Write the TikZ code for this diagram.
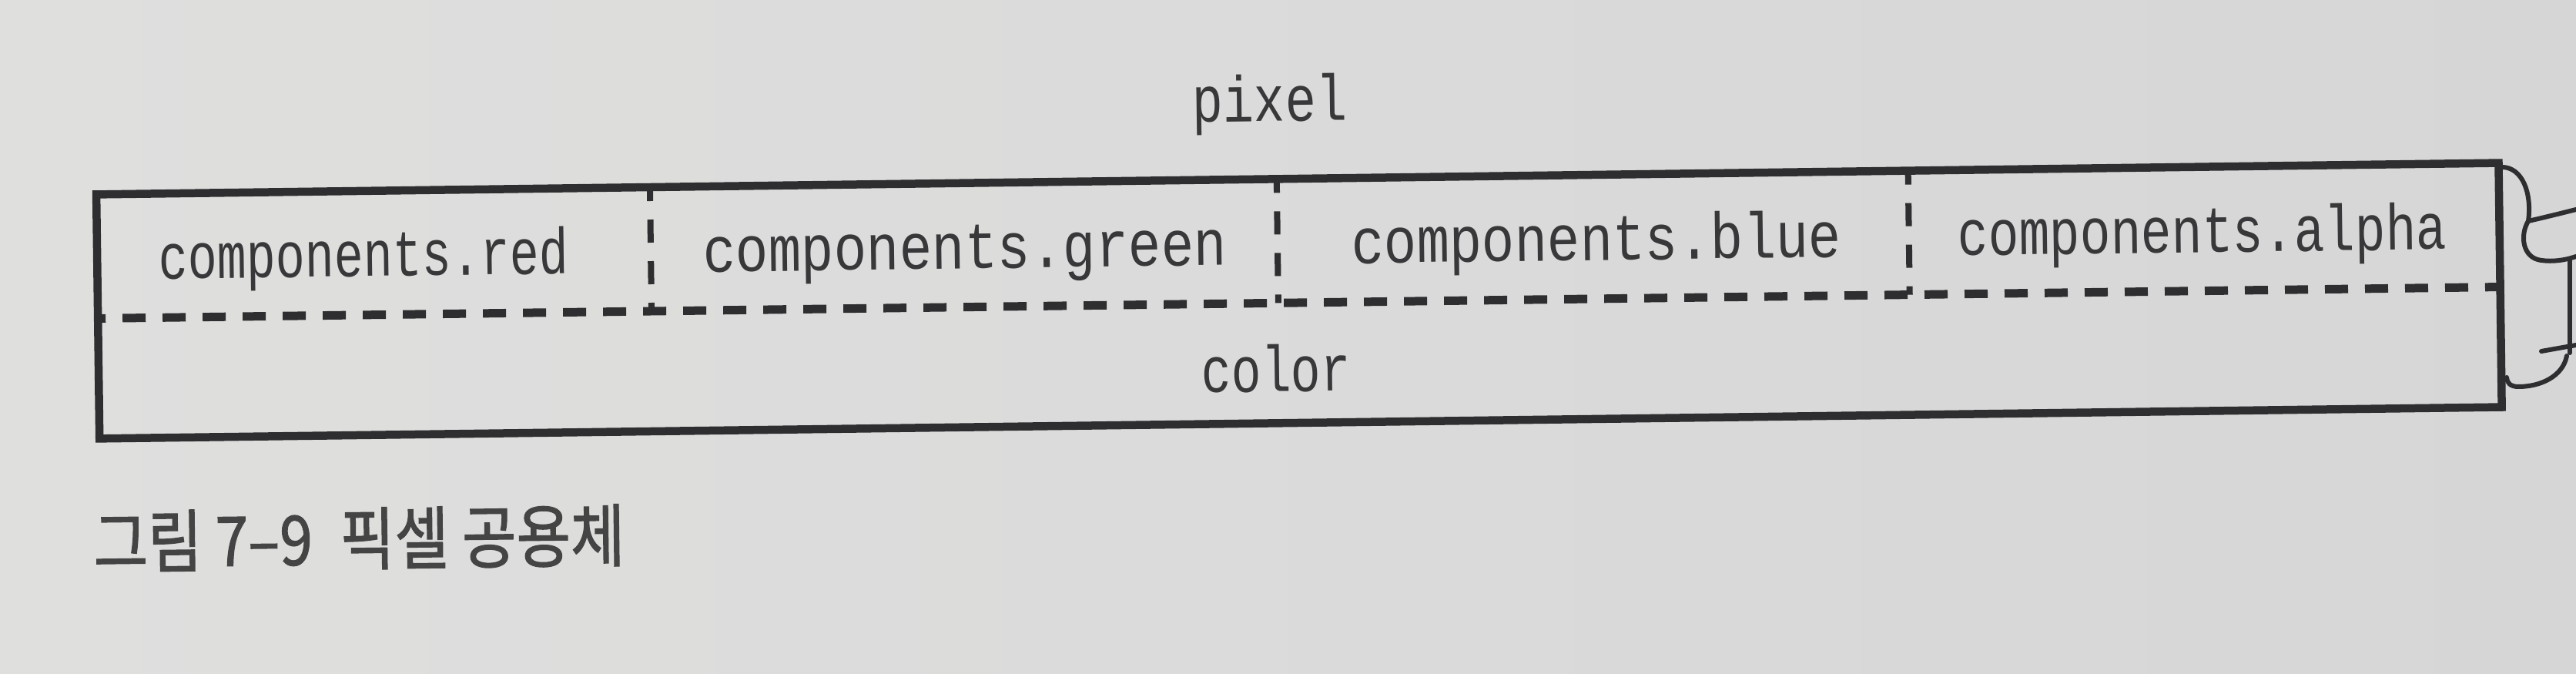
\documentclass[tikz,border=0pt]{standalone}
\usepackage{fontspec}
\usepackage{graphicx}
\newfontfamily\codefont{Liberation Mono}
\newfontfamily\capfont{Noto Sans CJK KR}[FakeBold=1.5]
\newcommand{\fitw}[2]{\resizebox{#1}{\height}{#2}}
\definecolor{bgl}{RGB}{223,223,222}
\definecolor{bgr}{RGB}{214,214,215}
\definecolor{linec}{RGB}{46,46,48}
\definecolor{inkc}{RGB}{56,56,58}
\definecolor{capc}{RGB}{68,68,68}
\tikzset{
  frame/.style={draw=linec, line width=0.105cm, line join=miter},
  hdash/.style={draw=linec, line width=0.11cm, dash pattern=on 0.30cm off 0.22cm, dash phase=0.20cm},
  vdash/.style={draw=linec, line width=0.08cm, dash pattern=on 0.30cm off 0.24cm, dash phase=0.12cm},
  code/.style={inner sep=0pt, outer sep=0pt, anchor=base, text=inkc, font=\codefont\fontsize{24}{28}\selectfont},
  captext/.style={inner sep=0pt, outer sep=0pt, text=capc, font=\capfont\fontsize{25.3}{30}\selectfont},
  bracepen/.style={draw=linec, line width=0.06cm, line cap=round, line join=round}
}
\begin{document}
\begin{tikzpicture}[x=1cm,y=1cm]
\useasboundingbox (0,0) rectangle (33.45,-8.75);
\shade[left color=bgl, right color=bgr] (0,0) rectangle (33.45,-8.75);
\begin{scope}[rotate around={0.75:(16.87,-3.92)}, transform shape]
  \coordinate (tl) at (1.27,-2.32);
  \coordinate (br) at (32.47,-5.49);
  \coordinate (ml) at (1.27,-3.93);
  \coordinate (mr) at (32.47,-3.93);
  \coordinate (d1t) at (8.46,-2.32);  \coordinate (d1b) at (8.46,-3.93);
  \coordinate (d2t) at (16.60,-2.32); \coordinate (d2b) at (16.60,-3.93);
  \coordinate (d3t) at (24.80,-2.32); \coordinate (d3b) at (24.80,-3.93);
  \draw[hdash] (ml) -- (mr);
  \draw[vdash] (d1t) -- (d1b);
  \draw[vdash] (d2t) -- (d2b);
  \draw[vdash] (d3t) -- (d3b);
  \draw[frame] (tl) rectangle (br);
  \node[code] (pixel) at (16.52,-1.57) {\fitw{2.01cm}{pixel}};
  \node[code] (red)   at (4.73,-3.43)  {\fitw{5.32cm}{components.red}};
  \node[code] (green) at (12.54,-3.43) {\fitw{6.80cm}{components.green}};
  \node[code] (blue)  at (20.74,-3.43) {\fitw{6.36cm}{components.blue}};
  \node[code] (alpha) at (28.61,-3.43) {\fitw{6.35cm}{components.alpha}};
  \node[code] (color) at (16.56,-5.08) {\fitw{1.94cm}{color}};
\end{scope}
\node[captext, anchor=base west, rotate=0.75] (caption) at (1.22,-7.37) {\fitw{6.90cm}{그림 7–9\hspace{0.22cm} 픽셀 공용체}};
% hand-drawn brace at the right edge
\draw[bracepen] (32.50,-2.17) .. controls (32.75,-2.18) and (32.88,-2.50) .. (32.83,-2.87);
\draw[bracepen] (32.83,-2.87) .. controls (32.72,-3.05) and (32.75,-3.35) .. (33.00,-3.38) .. controls (33.15,-3.40) and (33.30,-3.38) .. (33.45,-3.33);
\draw[bracepen] (32.83,-2.87) .. controls (33.05,-2.82) and (33.25,-2.77) .. (33.45,-2.72);
\draw[bracepen] (33.37,-3.38) -- (33.37,-4.58);
\draw[bracepen] (33.00,-4.56) -- (33.45,-4.48);
\draw[bracepen] (33.33,-4.62) .. controls (33.28,-4.88) and (33.00,-5.02) .. (32.70,-5.02) .. controls (32.60,-5.02) and (32.55,-4.97) .. (32.55,-4.90);
\end{tikzpicture}
\end{document}
